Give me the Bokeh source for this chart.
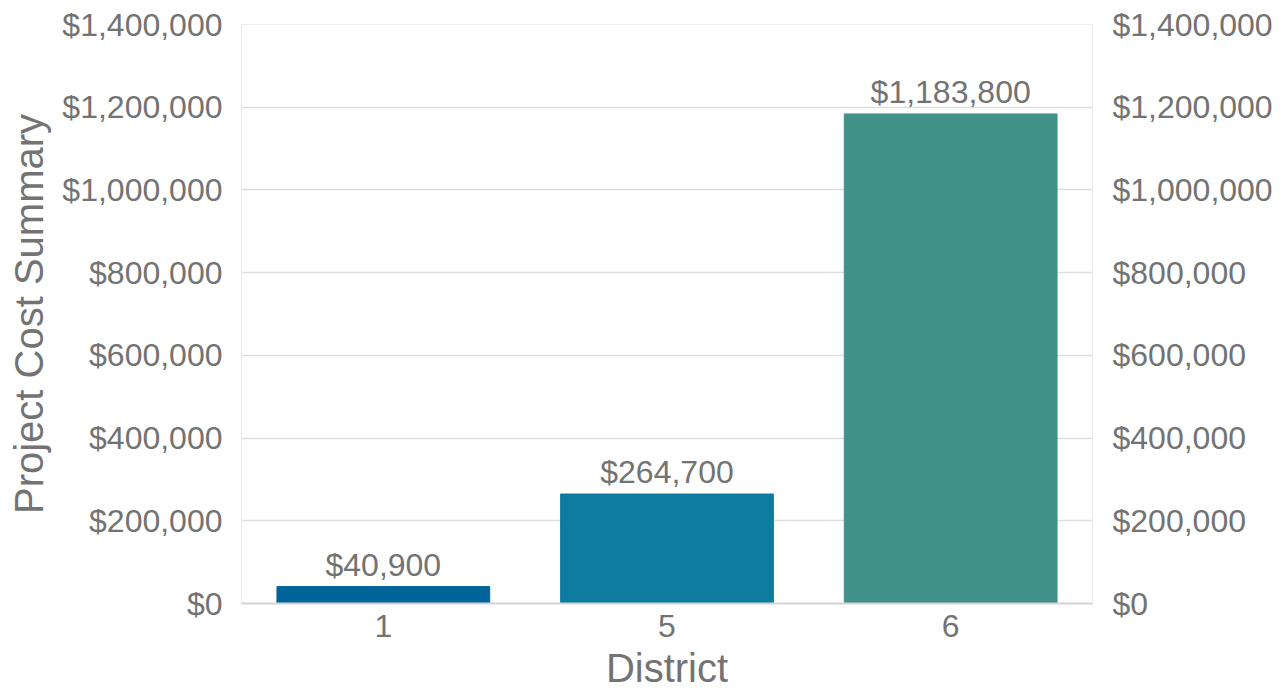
from bokeh.plotting import figure
from bokeh.models import (ColumnDataSource, FactorRange, Range1d, LinearAxis,
                          FixedTicker, NumeralTickFormatter)
from bokeh.core.properties import value
from bokeh.embed import file_html
from bokeh.resources import INLINE

districts = ["1", "5", "6"]
costs = [40900, 264700, 1183800]
colors = ["#006399", "#0e7c9e", "#409188"]
labels = ["$40,900", "$264,700", "$1,183,800"]
y_ticks = [0, 200000, 400000, 600000, 800000, 1000000, 1200000, 1400000]

FONT = "Liberation Sans"
GRAY = "#737373"

src = ColumnDataSource(dict(district=districts, cost=costs, color=colors, label=labels))

p = figure(width=1286, height=694, output_backend="svg", toolbar_location=None,
           x_range=FactorRange(factors=districts), y_range=Range1d(0, 1400000),
           min_border_left=241, min_border_right=194, min_border_top=24,
           min_border_bottom=91)

p.vbar(x="district", top="cost", width=0.75, color="color", source=src)
p.text(x="district", y="cost", text="label", source=src,
       text_align="center", text_baseline="bottom", y_offset=-4,
       text_font=value(FONT), text_font_size="32px", text_color=GRAY)

p.outline_line_color = "#ececec"
p.xgrid.grid_line_color = None
p.ygrid.grid_line_color = "#dedede"
p.ygrid.grid_line_width = 1.5
p.ygrid.ticker = FixedTicker(ticks=y_ticks)

ya = p.yaxis[0]
ya.ticker = FixedTicker(ticks=y_ticks)
ya.formatter = NumeralTickFormatter(format="$0,0")
ya.axis_label = "Project Cost Summary"

ra = LinearAxis(ticker=FixedTicker(ticks=y_ticks),
                formatter=NumeralTickFormatter(format="$0,0"))
p.add_layout(ra, "right")

xa = p.xaxis[0]
xa.axis_label = "District"

for ax in [ya, ra, xa]:
    ax.major_tick_line_color = None
    ax.minor_tick_line_color = None
    ax.major_label_text_font = FONT
    ax.major_label_text_font_size = "32px"
    ax.major_label_text_color = GRAY
    ax.axis_label_text_font = FONT
    ax.axis_label_text_font_size = "40px"
    ax.axis_label_text_font_style = "normal"
    ax.axis_label_text_color = GRAY

ya.axis_line_color = None
ra.axis_line_color = None
xa.axis_line_color = "#d4d4d4"
xa.axis_line_width = 2
ya.major_label_standoff = 13
ra.major_label_standoff = 14
xa.major_label_standoff = 5
ya.axis_label_standoff = 8
xa.axis_label_standoff = 6

open("out.html", "w").write(file_html(p, INLINE))
